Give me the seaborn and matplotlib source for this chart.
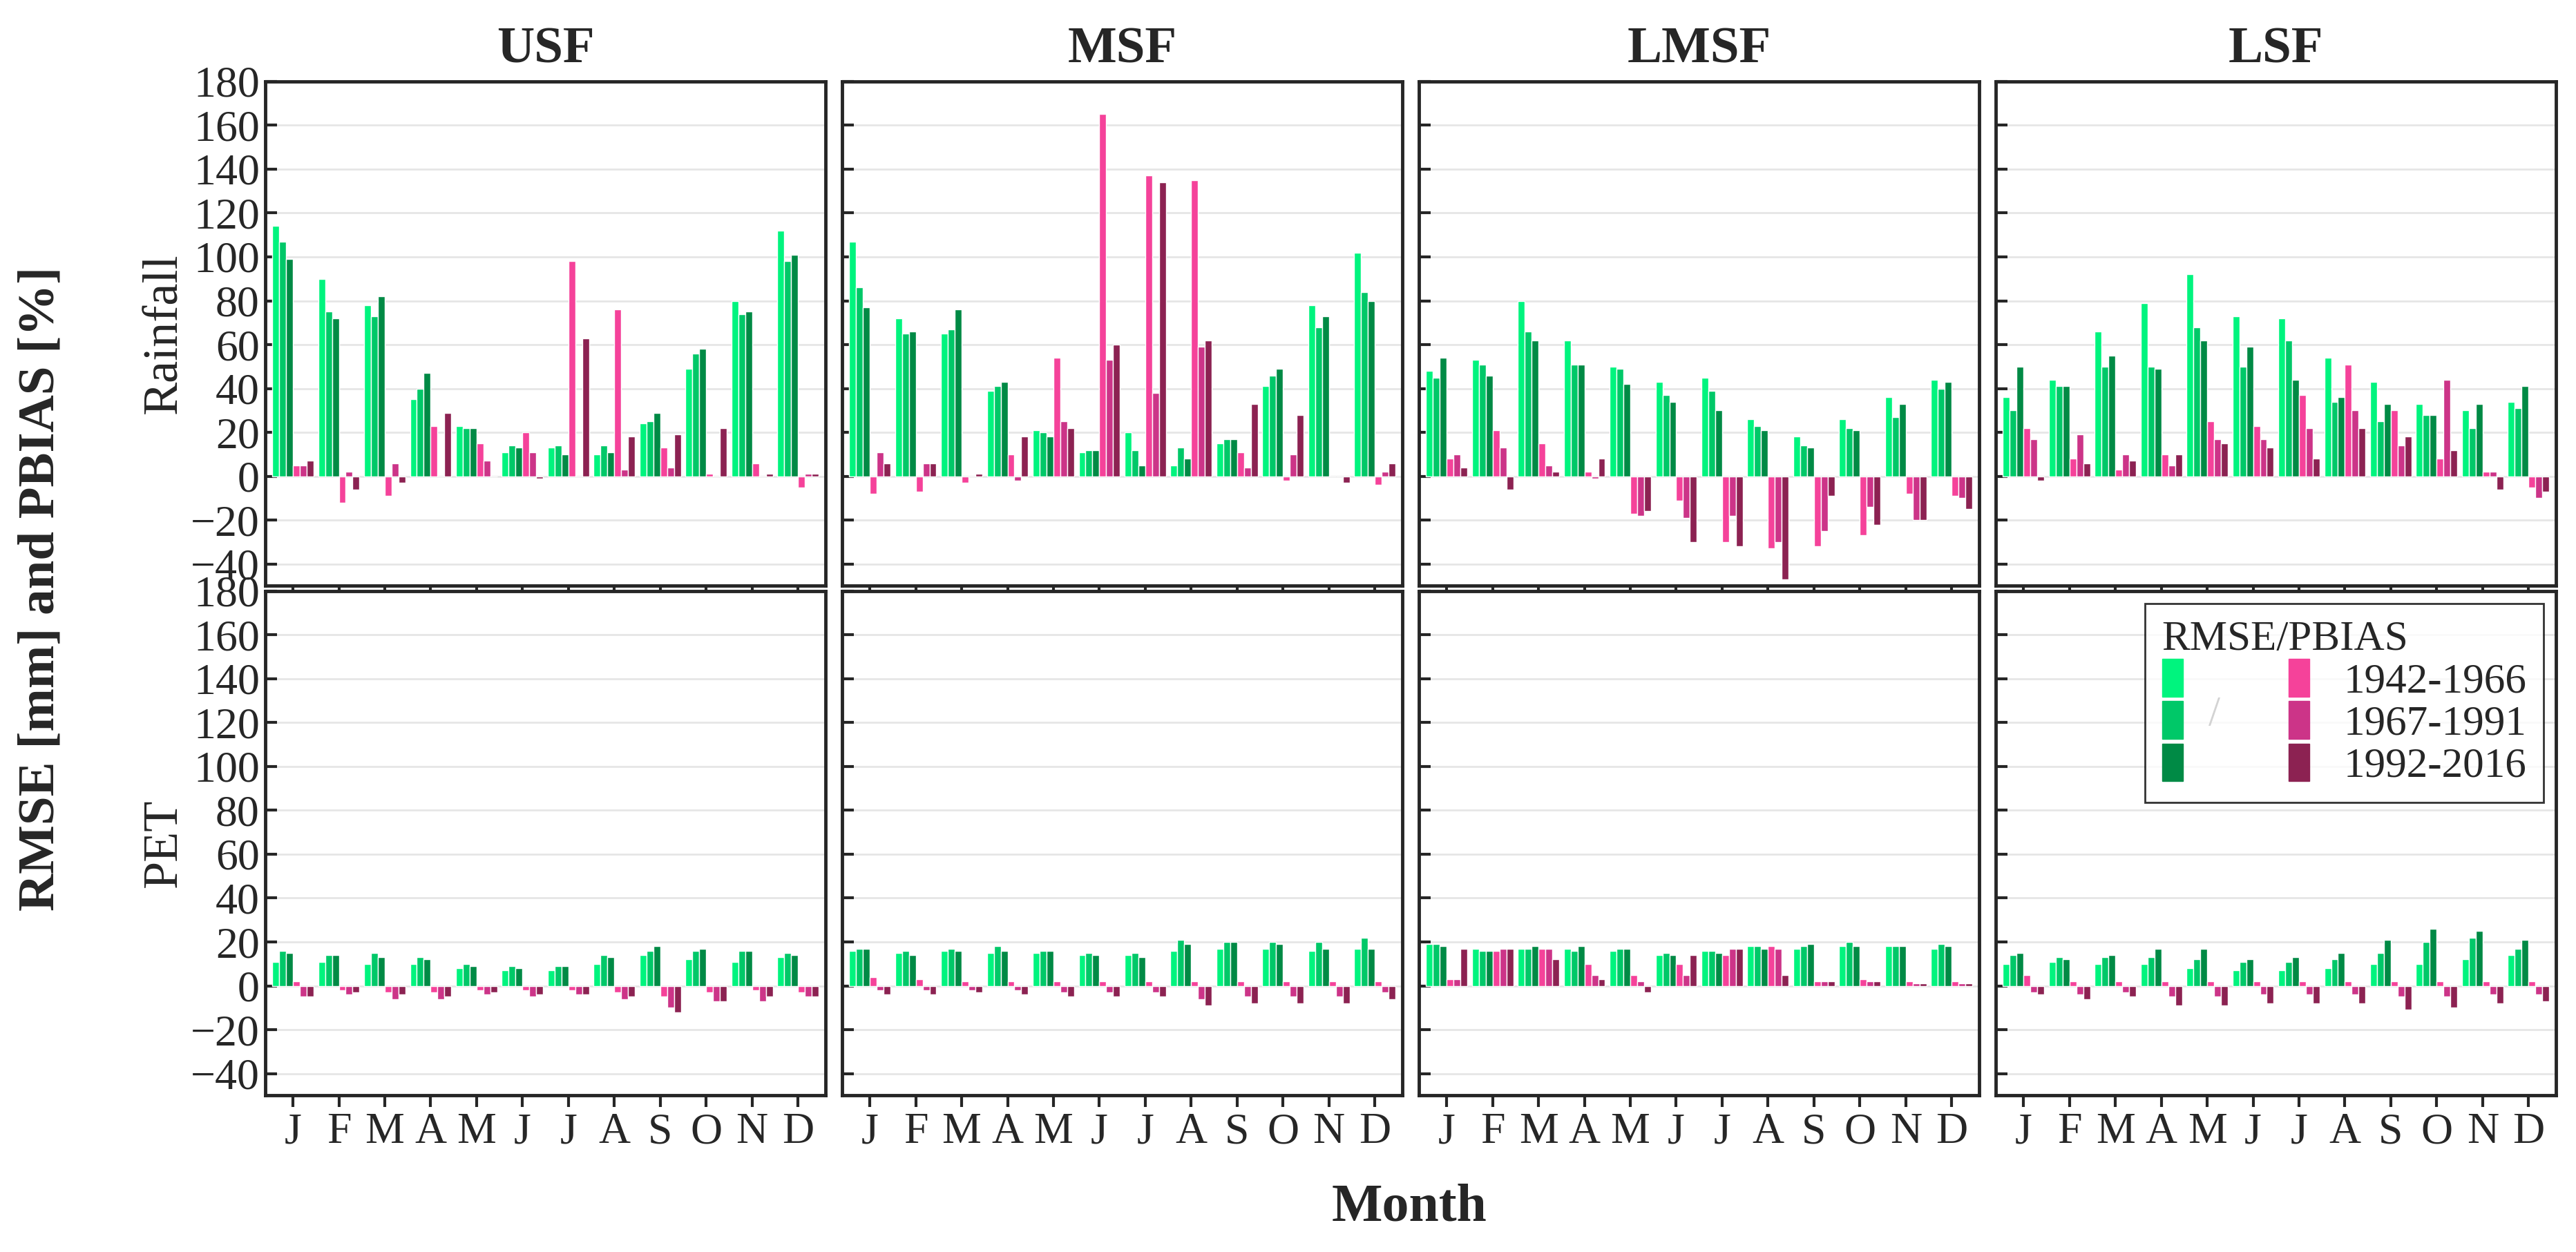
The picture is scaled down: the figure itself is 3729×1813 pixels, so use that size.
import numpy as np
import pandas as pd
import matplotlib
matplotlib.use("Agg")
import matplotlib.pyplot as plt
import seaborn as sns
from matplotlib.patches import Patch
from matplotlib.legend_handler import HandlerTuple

months = ["J", "F", "M", "A", "M", "J", "J", "A", "S", "O", "N", "D"]
regions = ["USF", "MSF", "LMSF", "LSF"]
series = ["RMSE 1942-1966", "RMSE 1967-1991", "RMSE 1992-2016",
          "PBIAS 1942-1966", "PBIAS 1967-1991", "PBIAS 1992-2016"]
periods = ["1942-1966", "1967-1991", "1992-2016"]

# per month: 3 RMSE values then 3 PBIAS values
rain = {
    "USF": [[114, 107, 99, 5, 5, 7], [90, 75, 72, -12, 2, -6], [78, 73, 82, -9, 6, -3],
            [35, 40, 47, 23, 0, 29], [23, 22, 22, 15, 7, 0], [11, 14, 13, 20, 11, -1],
            [13, 14, 10, 98, 0, 63], [10, 14, 11, 76, 3, 18], [24, 25, 29, 13, 4, 19],
            [49, 56, 58, 1, 0, 22], [80, 74, 75, 6, 0, 1], [112, 98, 101, -5, 1, 1]],
    "MSF": [[107, 86, 77, -8, 11, 6], [72, 65, 66, -7, 6, 6], [65, 67, 76, -3, 0, 1],
            [39, 41, 43, 10, -2, 18], [21, 20, 18, 54, 25, 22], [11, 12, 12, 165, 53, 60],
            [20, 12, 5, 137, 38, 134], [5, 13, 8, 135, 59, 62], [15, 17, 17, 11, 4, 33],
            [41, 46, 49, -2, 10, 28], [78, 68, 73, 0, 0, -3], [102, 84, 80, -4, 2, 6]],
    "LMSF": [[48, 45, 54, 8, 10, 4], [53, 51, 46, 21, 13, -6], [80, 66, 62, 15, 5, 2],
             [62, 51, 51, 2, -1, 8], [50, 49, 42, -17, -18, -16], [43, 37, 34, -11, -19, -30],
             [45, 39, 30, -30, -18, -32], [26, 23, 21, -33, -30, -47], [18, 14, 13, -32, -25, -9],
             [26, 22, 21, -27, -14, -22], [36, 27, 33, -8, -20, -20], [44, 40, 43, -9, -10, -15]],
    "LSF": [[36, 30, 50, 22, 17, -2], [44, 41, 41, 8, 19, 6], [66, 50, 55, 3, 10, 7],
            [79, 50, 49, 10, 5, 10], [92, 68, 62, 25, 17, 15], [73, 50, 59, 23, 17, 13],
            [72, 62, 44, 37, 22, 8], [54, 34, 36, 51, 30, 22], [43, 25, 33, 30, 14, 18],
            [33, 28, 28, 8, 44, 12], [30, 22, 33, 2, 2, -6], [34, 31, 41, -5, -10, -7]],
}
pet = {
    "USF": [[11, 16, 15, 2, -5, -5], [11, 14, 14, -2, -4, -3], [10, 15, 13, -3, -6, -4],
            [10, 13, 12, -3, -6, -5], [8, 10, 9, -2, -4, -3], [7, 9, 8, -2, -5, -4],
            [7, 9, 9, -2, -4, -4], [10, 14, 13, -3, -6, -5], [14, 16, 18, -5, -10, -12],
            [12, 16, 17, -3, -7, -7], [11, 16, 16, -2, -7, -5], [13, 15, 14, -3, -5, -5]],
    "MSF": [[16, 17, 17, 4, -2, -4], [15, 16, 14, 3, -2, -4], [16, 17, 16, 2, -2, -3],
            [15, 18, 16, 2, -2, -4], [15, 16, 16, 2, -3, -5], [14, 15, 14, 2, -3, -5],
            [14, 15, 13, 2, -3, -5], [16, 21, 19, 2, -6, -9], [17, 20, 20, 2, -5, -8],
            [17, 20, 19, 2, -5, -8], [16, 20, 17, 2, -5, -8], [17, 22, 17, 2, -3, -6]],
    "LMSF": [[19, 19, 18, 3, 3, 17], [17, 16, 16, 16, 17, 17], [17, 17, 18, 17, 17, 12],
             [17, 16, 18, 10, 5, 3], [16, 17, 17, 5, 2, -3], [14, 15, 14, 10, 5, 14],
             [16, 16, 15, 14, 17, 17], [18, 18, 17, 18, 17, 5], [17, 18, 19, 2, 2, 2],
             [18, 20, 18, 3, 2, 2], [18, 18, 18, 2, 1, 1], [17, 19, 18, 2, 1, 1]],
    "LSF": [[10, 14, 15, 5, -3, -4], [11, 13, 12, 2, -4, -6], [10, 13, 14, 2, -3, -5],
            [10, 13, 17, 2, -5, -9], [8, 12, 17, 2, -5, -9], [7, 11, 12, 2, -4, -8],
            [7, 11, 13, 2, -4, -8], [8, 12, 15, 2, -4, -8], [10, 15, 21, 2, -5, -11],
            [10, 20, 26, 2, -5, -10], [12, 22, 25, 2, -4, -8], [14, 17, 21, 2, -4, -7]],
}

greens = ["#00f47e", "#00c868", "#008a45"]
pinks = ["#f5429a", "#cc3488", "#8c2252"]
palette = dict(zip(series, greens + pinks))


def long_df(vals):
    rows = []
    for m, row in enumerate(vals):
        for s, v in zip(series, row):
            rows.append({"month": m, "series": s, "value": v})
    return pd.DataFrame(rows)


sns.set_style("ticks")
plt.rcParams["font.family"] = ["Liberation Serif", "DejaVu Serif"]

fig, axes = plt.subplots(2, 4, figsize=(37.3, 18.13), dpi=100, sharey=True)
fig.subplots_adjust(left=0.103, right=0.992, top=0.935, bottom=0.125, wspace=0.03, hspace=0.01)

for r, data in enumerate([rain, pet]):
    for c, reg in enumerate(regions):
        ax = axes[r, c]
        sns.barplot(data=long_df(data[reg]), x="month", y="value", hue="series",
                    hue_order=series, palette=palette, width=0.9, saturation=1,
                    ax=ax, legend=False)
        ax.set_ylim(-50, 180)
        ax.set_yticks(np.arange(-40, 181, 20))
        ax.yaxis.grid(True, color="#e6e6e6", lw=2)
        ax.set_axisbelow(True)
        ax.set_xlabel("")
        ax.set_ylabel("")
        ax.set_xlim(-0.6, 11.6)
        for sp in ax.spines.values():
            sp.set_linewidth(3.5)
        ax.tick_params(width=3, length=12, labelsize=46, direction="in", pad=6)
        ax.tick_params(axis="x", direction="out")
        ax.set_xticks(range(12))
        if r == 0:
            ax.set_title(reg, fontsize=54, fontweight="bold", pad=20)
            ax.set_xticklabels([])
        else:
            ax.set_xticklabels(months)

axes[0, 0].set_ylabel("Rainfall", fontsize=52, labelpad=4)
axes[1, 0].set_ylabel("PET", fontsize=52, labelpad=4)
fig.text(0.016, 0.53, "RMSE [mm] and PBIAS [%]", rotation=90, ha="center", va="center",
         fontsize=54, fontweight="bold")
fig.text(0.547, 0.025, "Month", ha="center", fontsize=56, fontweight="bold")

handles = [(Patch(color=g), Patch(color=p)) for g, p in zip(greens, pinks)]
leg = axes[1, 3].legend(handles, periods, title="RMSE/PBIAS", loc="upper right",
                        handler_map={tuple: HandlerTuple(ndivide=None, pad=2.5)},
                        fontsize=44, title_fontsize=44, frameon=True, fancybox=False,
                        edgecolor="black", handlelength=3.5, handleheight=1.0,
                        labelspacing=0.0, borderaxespad=0.3)
leg.get_frame().set_linewidth(2)
leg._legend_box.align = "left"
# slash between the green and pink columns
axes[1, 3].text(0.39, 0.755, "/", transform=axes[1, 3].transAxes, fontsize=44,
                ha="center", va="center")

fig.savefig("out.png", dpi=100)
